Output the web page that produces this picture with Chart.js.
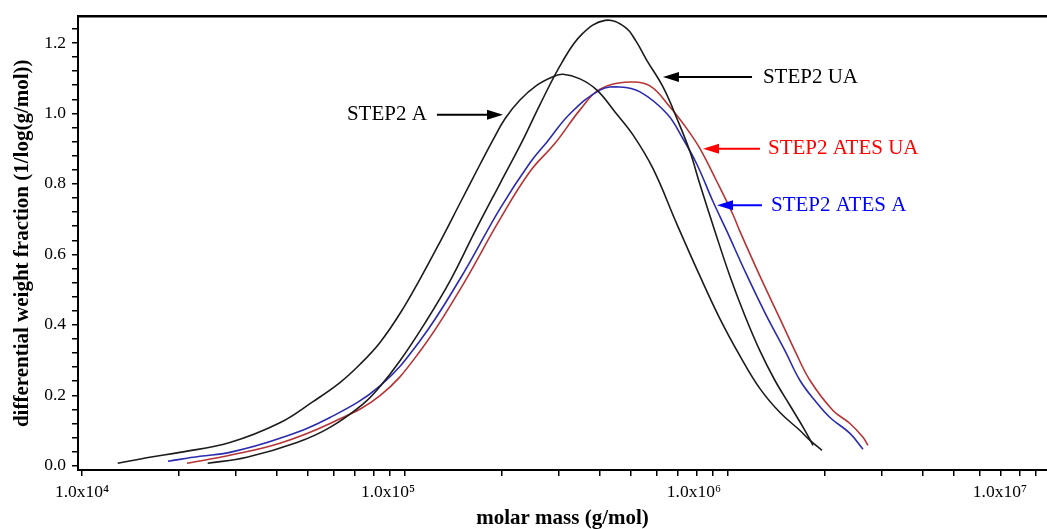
<!DOCTYPE html>
<html>
<head>
<meta charset="utf-8">
<script src="https://cdn.jsdelivr.net/npm/chart.js@4.4.1/dist/chart.umd.min.js"></script>
<style>
html, body { margin: 0; padding: 0; background: #fff; }
</style>
</head>
<body>
<canvas id="chart" width="1047" height="529"></canvas>
<script>
// molar mass (g/mol) and differential weight fraction
const massA = [12900, 16200, 20100, 28700, 41000, 51900, 62900, 72600, 83700, 96500, 111300, 128300, 148000, 170700, 187300, 204000, 227000, 256300, 287200, 308500, 348200, 393000, 446900, 508000, 586100, 695300, 819000, 944500, 1089000, 1256000, 1449000, 1671000, 1795000, 1954000];
const fracA = [0.007, 0.024, 0.038, 0.066, 0.122, 0.182, 0.236, 0.288, 0.350, 0.432, 0.530, 0.635, 0.745, 0.855, 0.925, 0.985, 1.038, 1.080, 1.104, 1.111, 1.098, 1.066, 1.004, 0.939, 0.843, 0.685, 0.538, 0.417, 0.312, 0.219, 0.151, 0.100, 0.072, 0.044];

const massUA = [24500, 32400, 46300, 58600, 74100, 83700, 96500, 115300, 137800, 164700, 196900, 230200, 261800, 306300, 353200, 416200, 479800, 519100, 561300, 629200, 695300, 762900, 819000, 911600, 1014000, 1129000, 1256000, 1398000, 1556000, 1732000, 1833000];
const fracUA = [0.007, 0.024, 0.066, 0.109, 0.175, 0.225, 0.298, 0.405, 0.524, 0.665, 0.801, 0.919, 1.025, 1.145, 1.225, 1.264, 1.245, 1.205, 1.150, 1.075, 0.985, 0.891, 0.798, 0.665, 0.538, 0.425, 0.326, 0.242, 0.171, 0.100, 0.058];

const massAtesA = [18460, 23190, 28700, 41000, 58600, 83700, 111300, 148000, 196900, 243800, 275200, 324300, 401500, 463000, 534200, 647300, 725500, 801700, 898600, 992900, 1129000, 1302000, 1502000, 1671000, 1859000, 2069000, 2386000, 2618000];
const fracAtesA = [0.013, 0.027, 0.038, 0.078, 0.137, 0.227, 0.355, 0.530, 0.730, 0.860, 0.919, 0.999, 1.066, 1.075, 1.061, 0.999, 0.928, 0.855, 0.750, 0.665, 0.552, 0.434, 0.326, 0.242, 0.185, 0.137, 0.092, 0.047];

const massAtesUA = [21140, 28700, 41000, 58600, 83700, 111300, 148000, 196900, 243800, 291400, 348200, 401500, 497400, 573500, 661300, 746600, 819000, 924500, 1036000, 1089000, 1256000, 1449000, 1612000, 1795000, 2114000, 2386000, 2618000, 2713000];
const fracAtesUA = [0.007, 0.030, 0.064, 0.120, 0.199, 0.325, 0.500, 0.700, 0.835, 0.915, 1.010, 1.069, 1.089, 1.078, 1.018, 0.956, 0.900, 0.806, 0.713, 0.665, 0.538, 0.417, 0.326, 0.242, 0.157, 0.120, 0.081, 0.058];

// tick labels
const xLabelValues = [1e4, 1e5, 1e6, 1e7];
const xLabelTexts = ['1.0x10\u2074', '1.0x10\u2075', '1.0x10\u2076', '1.0x10\u2077'];

// annotations: text, colour, where text starts, arrow tail, arrow tip, level
const annoTexts = ['STEP2 A', 'STEP2 UA', 'STEP2 ATES UA', 'STEP2 ATES A'];
const annoColors = ['#000000', '#000000', '#ff0000', '#0000ff'];
const annoTextAt = [66100, 1283000, 1330000, 1359000];
const annoTail = [125600, 1187000, 1256000, 1274000];
const annoTip = [201100, 629000, 836700, 924500];
const annoLevel = [0.996, 1.103, 0.900, 0.739];

// minor tick positions on the x axis: 1..9 for each decade
let xTicks = [];
for (let d = 1e4; d <= 1e6; d *= 10) {
	for (let k = 1; k <= 9; k++) xTicks.push(k * d);
}
// y ticks every 0.04
let yTicks = [];
for (let i = 0; i <= 31; i++) yTicks.push(Math.round(i * 4) / 100);

function pts(xs, ys) {
	return xs.map((x, i) => ({x: x, y: ys[i]}));
}

Chart.defaults.font.family = '"Liberation Serif", "Times New Roman", serif';
Chart.defaults.color = '#000';

const arrows = {
	id: 'arrows',
	afterDatasetsDraw(chart) {
		const ctx = chart.ctx;
		const xs = chart.scales.x, ys = chart.scales.y;
		ctx.save();
		for (let i = 0; i < annoTexts.length; i++) {
			const y = ys.getPixelForValue(annoLevel[i]);
			const xt = xs.getPixelForValue(annoTextAt[i]);
			const x1 = xs.getPixelForValue(annoTail[i]);
			const x2 = xs.getPixelForValue(annoTip[i]);
			ctx.fillStyle = annoColors[i];
			ctx.strokeStyle = annoColors[i];
			ctx.font = '21px "Liberation Serif", serif';
			ctx.textAlign = 'left';
			ctx.textBaseline = 'middle';
			ctx.fillText(annoTexts[i], xt, y);
			// shaft
			const dir = x2 > x1 ? 1 : -1;
			ctx.lineWidth = 2;
			ctx.beginPath();
			ctx.moveTo(x1, y);
			ctx.lineTo(x2 - dir * 12, y);
			ctx.stroke();
			// head
			ctx.beginPath();
			ctx.moveTo(x2, y);
			ctx.lineTo(x2 - dir * 16, y - 5);
			ctx.lineTo(x2 - dir * 16, y + 5);
			ctx.closePath();
			ctx.fill();
		}
		ctx.restore();
	}
};

const lineStyle = {pointRadius: 0, borderWidth: 1.6, tension: 0.4, fill: false};

new Chart(document.getElementById('chart').getContext('2d'), {
	type: 'line',
	data: {
		datasets: [
			Object.assign({label: 'STEP2 A', data: pts(massA, fracA), borderColor: '#1c1c1c'}, lineStyle),
			Object.assign({label: 'STEP2 UA', data: pts(massUA, fracUA), borderColor: '#1c1c1c'}, lineStyle),
			Object.assign({label: 'STEP2 ATES A', data: pts(massAtesA, fracAtesA), borderColor: '#2b2bb0'}, lineStyle),
			Object.assign({label: 'STEP2 ATES UA', data: pts(massAtesUA, fracAtesUA), borderColor: '#b83434'}, lineStyle)
		]
	},
	options: {
		responsive: false,
		animation: false,
		layout: {padding: {top: 14, right: 0, bottom: 0, left: 0}},
		plugins: {legend: {display: false}, tooltip: {enabled: false}},
		scales: {
			x: {
				type: 'logarithmic',
				position: 'bottom',
				weight: 0,
				min: 9720,
				max: 9720000,
				afterBuildTicks: (axis) => { axis.ticks = xTicks.map(v => ({value: v})); },
				ticks: {display: false, autoSkip: false},
				grid: {drawOnChartArea: false, drawTicks: true, tickLength: 6, color: '#000', lineWidth: 1.5},
				border: {display: true, width: 2, color: '#000'}
			},
			xl: {
				type: 'logarithmic',
				position: 'bottom',
				weight: 1,
				min: 9704,
				max: 14245000,
				afterBuildTicks: (axis) => { axis.ticks = xLabelValues.map(v => ({value: v})); },
				afterFit: (axis) => { axis.height = 53; },
				ticks: {
					autoSkip: false, maxRotation: 0, minRotation: 0, padding: 6,
					font: {size: 17.5}, color: '#000',
					callback: (v, i) => xLabelTexts[i]
				},
				grid: {display: false, drawTicks: false},
				border: {display: false},
				title: {display: true, text: 'molar mass (g/mol)', color: '#000', font: {size: 21, weight: 'bold', lineHeight: 1}, padding: {top: 0, bottom: 0}}
			},
			xt: {
				type: 'linear',
				position: 'top',
				ticks: {display: false},
				grid: {display: false, drawTicks: false},
				border: {display: true, width: 2.5, color: '#000'}
			},
			y: {
				type: 'linear',
				min: -0.012,
				max: 1.275,
				afterBuildTicks: (axis) => { axis.ticks = yTicks.map(v => ({value: v})); },
				afterFit: (axis) => { axis.width = 78; },
				ticks: {
					autoSkip: false, padding: 6, font: {size: 17.5}, color: '#000',
					callback: (v) => Math.abs(v * 5 - Math.round(v * 5)) < 1e-6 ? v.toFixed(1) : ''
				},
				grid: {drawOnChartArea: false, drawTicks: true, tickLength: 6, color: '#000', lineWidth: 1.5},
				border: {display: true, width: 2, color: '#000'},
				title: {display: true, text: 'differential weight fraction (1/log(g/mol))', color: '#000', font: {size: 21, weight: 'bold', lineHeight: 1}, padding: {top: 12.5, bottom: 0}}
			}
		}
	},
	plugins: [arrows]
});
</script>
</body>
</html>
